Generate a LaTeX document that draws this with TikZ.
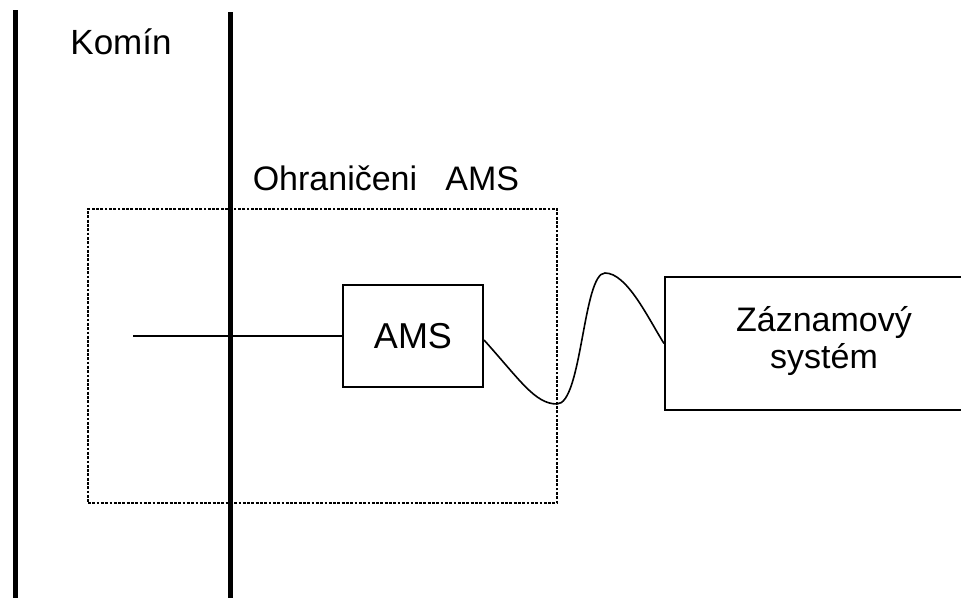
\documentclass[tikz,border=0pt]{standalone}
\usepackage{fontspec}
\setmainfont{Liberation Sans}
\begin{document}
\begin{tikzpicture}[x=1pt,y=-1pt,
  wall/.style={line width=5pt},
  wire/.style={line width=1.6pt},
  unitbox/.style={draw,line width=2pt,rectangle,inner sep=0pt},
  limitbox/.style={draw,line width=2.6pt,dash pattern=on 2.8pt off 1.5pt,rectangle,inner sep=0pt},
  lbl/.style={inner sep=0pt,font=\fontsize{35}{38}\selectfont}
]
\clip (0,0) rectangle (961,597);
\fill[white] (0,0) rectangle (961,597);

% chimney walls
\coordinate (w1t) at (15,10);
\coordinate (w1b) at (15,600);
\coordinate (w2t) at (230,12);
\coordinate (w2b) at (230,600);
\draw[wall] (w1t) -- (w1b);
\draw[wall] (w2t) -- (w2b);
\node[lbl] (komin) at (121,42) {Komín};

% boundary of the measuring system
\node[limitbox,minimum width=469pt,minimum height=294pt] (limit) at (322.5,356) {};
\node[lbl,font=\fontsize{34}{37}\selectfont] (limitlbl) at (386,178) {Ohraničeni\ \ \ AMS};

% analyser and probe
\node[unitbox,minimum width=140pt,minimum height=102pt,font=\fontsize{36}{40}\selectfont] (ams) at (413,336) {AMS};
\coordinate (probe) at (133,336);
\draw[wire] (probe) -- (ams.west);

% recording system
\node[unitbox,minimum width=320pt,minimum height=133pt] (rec) at (825,343.5) {};
\node[lbl,font=\fontsize{34}{37}\selectfont,align=center] (reclbl) at (824,341) {Záznamový\\systém};

% cable
\draw[wire] (ams.east |- 0,340) .. controls (520,380) and (535,404) .. (557,404)
  .. controls (582,404) and (583,273) .. (605,273)
  .. controls (627,273) and (648,318) .. (rec.west);
\end{tikzpicture}
\end{document}
